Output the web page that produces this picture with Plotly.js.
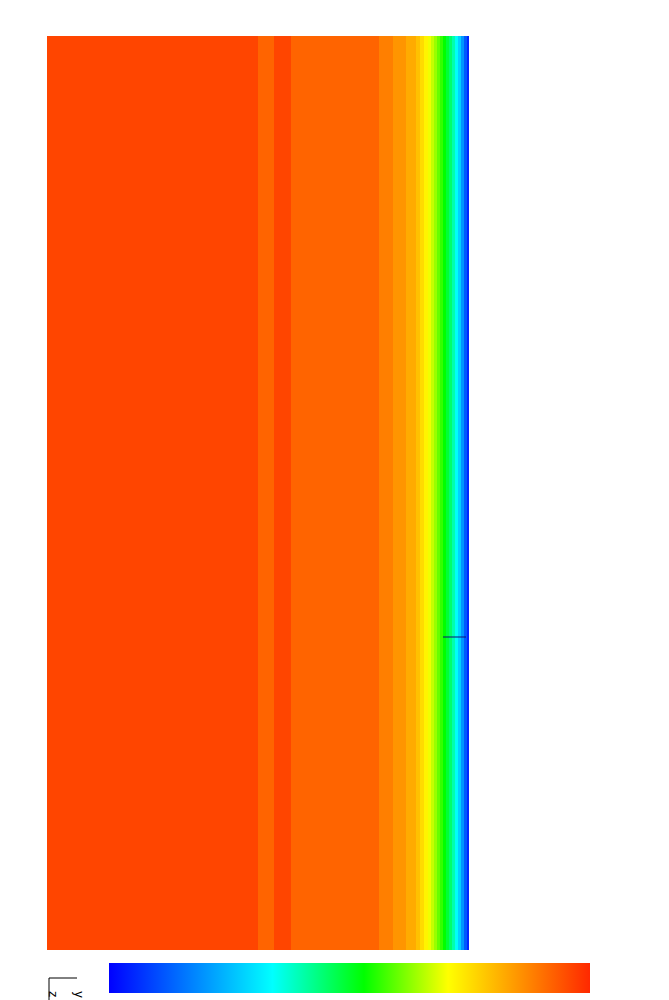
<!DOCTYPE html>
<html>
<head>
<meta charset="utf-8">
<script src="https://cdn.plot.ly/plotly-3.0.1.min.js"></script>
<style>html,body{margin:0;padding:0;background:#fff;}#chart{width:669px;height:1000px;}</style>
</head>
<body>
<div id="chart"></div>
<script>
// Band edges across the wall (mm) and the normalised field value in each band
const bandEdges = [0, 21.1, 22.7, 24.4, 33.2, 34.6, 35.9, 36.9, 37.3, 37.7, 38.1, 38.4, 38.7,
  39.0, 39.3, 39.6, 39.9, 40.2, 40.5, 40.8, 41.1, 41.4, 41.7, 42.0, 42.2];
const bandValues = [0.96, 0.918, 0.96, 0.918, 0.88, 0.85, 0.82, 0.79, 0.755, 0.72, 0.695, 0.665,
  0.635, 0.6, 0.565, 0.53, 0.49, 0.45, 0.40, 0.345, 0.28, 0.2, 0.12, 0.05];
const heightEdges = [0, 91.4];
// short probe line drawn in the cold zone
const probeX = [39.6, 41.9];
const probeY = [31.3, 31.3];

const colorscale = [
  [0, 'rgb(0,0,255)'],
  [0.34, 'rgb(0,255,255)'],
  [0.53, 'rgb(0,255,0)'],
  [0.705, 'rgb(255,255,0)'],
  [1, 'rgb(255,40,0)']
];

const W = 422, H = 914, L = 47, T = 36;
const px = v => (v - L) / W;
const py = v => (T + H - v) / H;

const traces = [
  {
    type: 'heatmap',
    x: bandEdges,
    y: heightEdges,
    z: [bandValues],
    zmin: 0, zmax: 1,
    colorscale: colorscale,
    zsmooth: false,
    hoverinfo: 'skip',
    colorbar: {
      orientation: 'h',
      thickness: 30, thicknessmode: 'pixels',
      len: 481, lenmode: 'pixels',
      x: px(109), xanchor: 'left',
      y: py(963), yanchor: 'top',
      xpad: 0, ypad: 0,
      outlinewidth: 0,
      showticklabels: false,
      ticks: ''
    }
  },
  {
    type: 'scatter', mode: 'lines',
    x: probeX, y: probeY,
    line: {color: 'rgb(15,15,120)', width: 1},
    hoverinfo: 'skip', showlegend: false
  }
];

const layout = {
  width: 669, height: 1000,
  margin: {l: L, r: 669 - 469, t: T, b: 1000 - 950, pad: 0, autoexpand: false},
  paper_bgcolor: '#fff', plot_bgcolor: '#fff',
  showlegend: false,
  xaxis: {visible: false, range: [0, 42.2], fixedrange: true},
  yaxis: {visible: false, range: [0, 91.4], fixedrange: true},
  shapes: [
    {type: 'line', xref: 'paper', yref: 'paper', x0: px(49), x1: px(77), y0: py(978), y1: py(978), line: {color: '#000', width: 1}},
    {type: 'line', xref: 'paper', yref: 'paper', x0: px(49), x1: px(49), y0: py(978), y1: py(1000), line: {color: '#000', width: 1}}
  ],
  annotations: [
    {xref: 'paper', yref: 'paper', x: px(53), y: py(994), xanchor: 'center', yanchor: 'middle', text: 'z', showarrow: false, textangle: 90,
     font: {family: 'DejaVu Sans', size: 12, color: '#000'}},
    {xref: 'paper', yref: 'paper', x: px(79), y: py(994), xanchor: 'center', yanchor: 'middle', text: 'y', showarrow: false, textangle: 90,
     font: {family: 'DejaVu Sans', size: 12, color: '#000'}}
  ]
};

Plotly.newPlot('chart', traces, layout, {staticPlot: true, displayModeBar: false});
</script>
</body>
</html>
